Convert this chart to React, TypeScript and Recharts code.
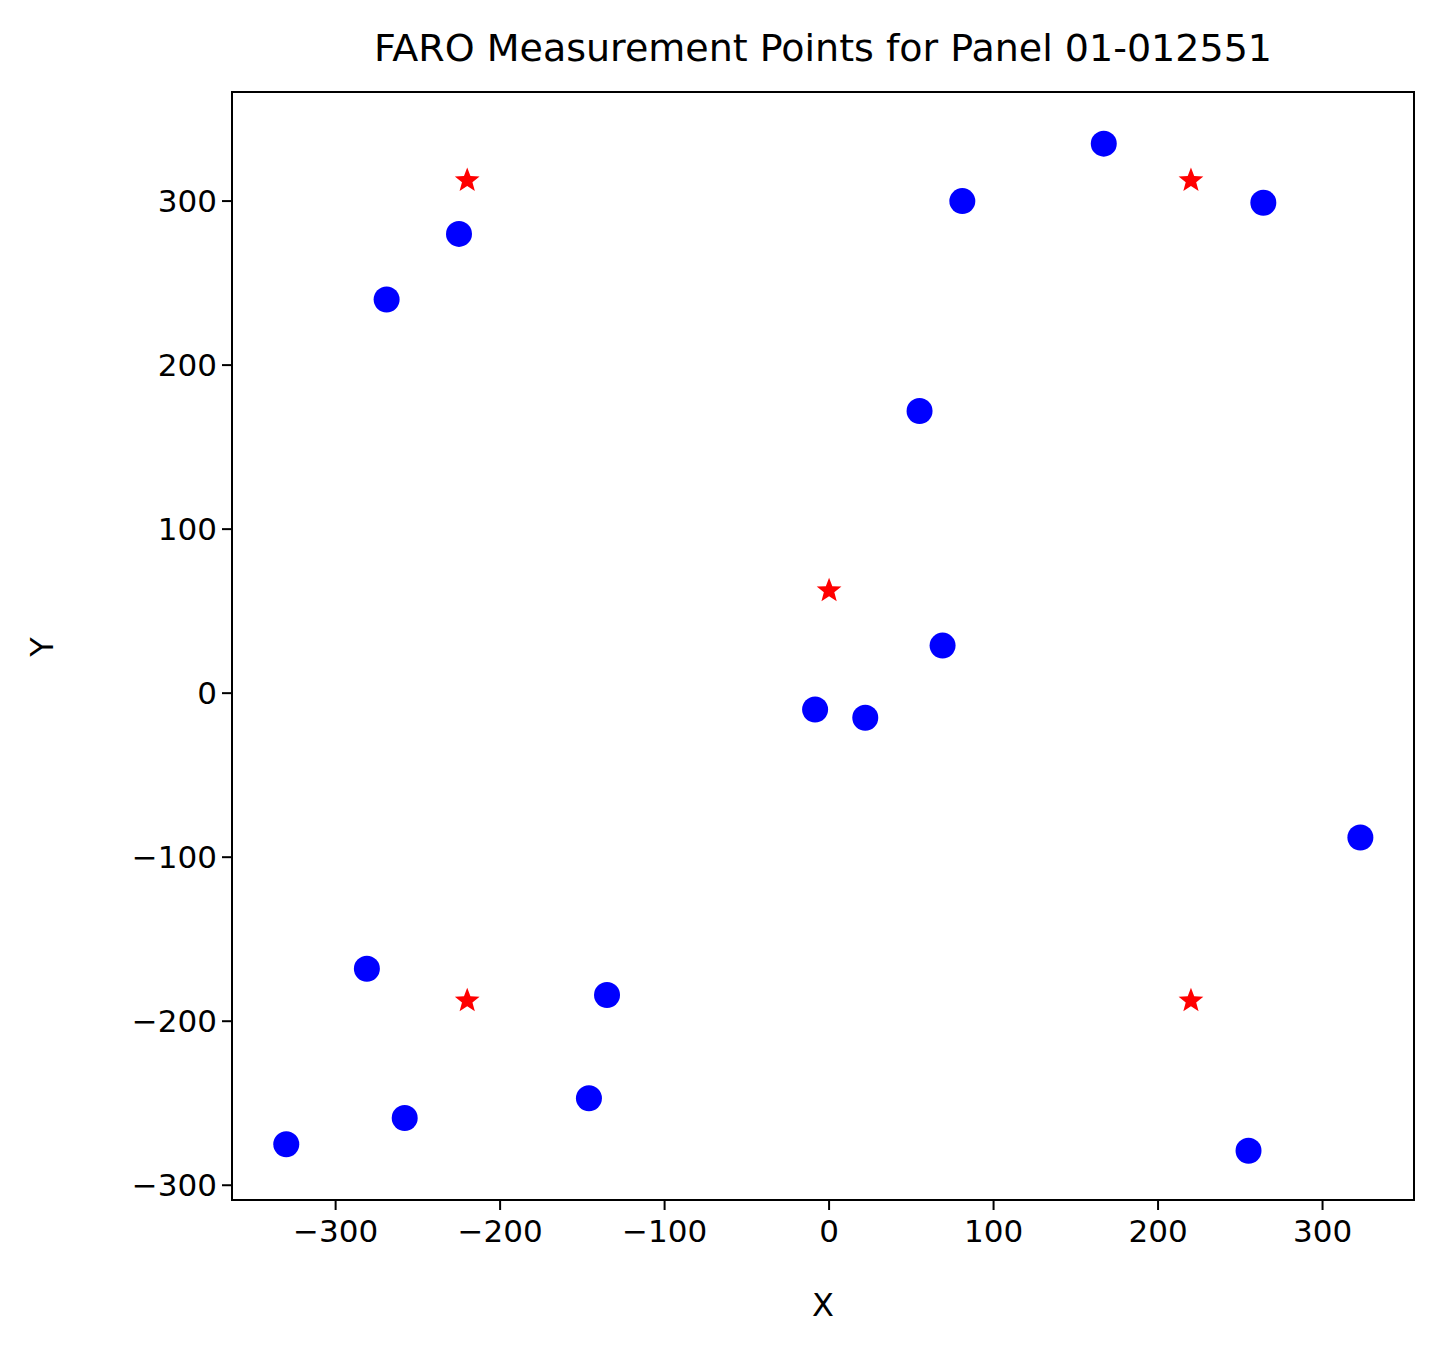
import React from 'react';
import { ScatterChart, Scatter, XAxis, YAxis, ReferenceArea } from 'recharts';

const measuredX = [-269, -225, 81, 167, 264, 55, 69, -8.5, 22, 323, -281, -135, -146, -258, -330, 255];
const measuredY = [240, 280, 300, 335, 299, 172, 29, -10, -15, -88, -168, -184, -247, -259, -275, -279];
const refX = [-220, 220, 0, -220, 220];
const refY = [312.5, 312.5, 62.5, -187.5, -187.5];
const ticks = [-300, -200, -100, 0, 100, 200, 300];

const X_DOM: [number, number] = [-363, 355.6];
const Y_DOM: [number, number] = [-309, 366.5];

const measured = measuredX.map((x, i) => ({ x, y: measuredY[i] }));
const refs = refX.map((x, i) => ({ x, y: refY[i] }));

const fmt = (v: number) => (v < 0 ? '\u2212' + Math.abs(v) : String(v));

const Dot = (p: any) => <circle cx={p.cx} cy={p.cy} r={13} fill="#0000ff" />;

const Star = (p: any) => {
  const pts: string[] = [];
  for (let i = 0; i < 10; i++) {
    const r = i % 2 === 0 ? 13 : 5.5;
    const a = -Math.PI / 2 + (i * Math.PI) / 5;
    pts.push(`${p.cx + r * Math.cos(a)},${p.cy + r * Math.sin(a)}`);
  }
  return <polygon points={pts.join(' ')} fill="#ff0000" />;
};

export default function App() {
  const font = 'DejaVu Sans';
  return (
    <div style={{ position: 'absolute', left: 0, top: 0, width: 1450, height: 1361, background: '#fff', fontFamily: font }}>
      <div style={{ position: 'absolute', left: 222, width: 1202, top: 26, textAlign: 'center', fontSize: 38 }}>
        FARO Measurement Points for Panel 01-012551
      </div>
      <div style={{ position: 'absolute', left: 232, width: 1182, top: 1286, textAlign: 'center', fontSize: 32 }}>X</div>
      <div style={{ position: 'absolute', left: 32, top: 628, fontSize: 32, transform: 'rotate(-90deg)' }}>Y</div>
      <ScatterChart width={1450} height={1361} margin={{ top: 92, right: 36, left: 0, bottom: 0 }}>
        <XAxis type="number" dataKey="x" domain={X_DOM} ticks={ticks} allowDataOverflow height={161}
          tickFormatter={fmt} axisLine={false} tick={{ fill: '#000', fontSize: 31, fontFamily: font, dy: 8 }}
          tickLine={{ stroke: '#000', strokeWidth: 2 }} tickSize={10} />
        <YAxis type="number" dataKey="y" domain={Y_DOM} ticks={ticks} allowDataOverflow width={232}
          tickFormatter={fmt} axisLine={false} tick={{ fill: '#000', fontSize: 31, fontFamily: font, dx: -3 }}
          tickLine={{ stroke: '#000', strokeWidth: 2 }} tickSize={10} />
        <ReferenceArea x1={X_DOM[0]} x2={X_DOM[1]} y1={Y_DOM[0]} y2={Y_DOM[1]} fill="none" fillOpacity={0}
          stroke="#000" strokeWidth={2} ifOverflow="visible" />
        <Scatter data={measured} shape={Dot} isAnimationActive={false} />
        <Scatter data={refs} shape={Star} isAnimationActive={false} />
      </ScatterChart>
    </div>
  );
}
